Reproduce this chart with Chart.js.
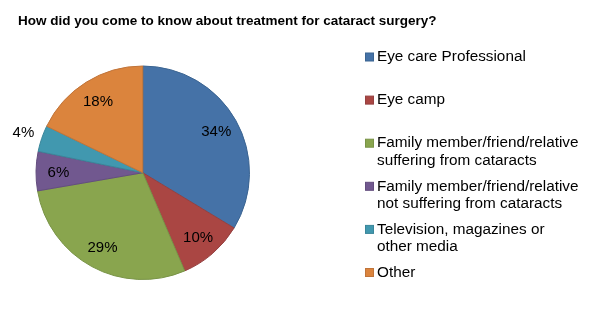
<!DOCTYPE html>
<html>
<head>
<meta charset="utf-8">
<script src="https://cdn.jsdelivr.net/npm/chart.js@4"></script>
<style>
  body { margin: 0; background: #fff; }
  canvas { display: block; }
</style>
</head>
<body>
<canvas id="chart" width="600" height="314"></canvas>
<script>
const title = "How did you come to know about treatment for cataract surgery?";

// legend text, split in lines like the original
const categories = [
  ["Eye care Professional"],
  ["Eye camp"],
  ["Family member/friend/relative", "suffering from cataracts"],
  ["Family member/friend/relative", "not suffering from cataracts"],
  ["Television, magazines or", "other media"],
  ["Other"]
];
const shares = [34, 10, 29, 6, 4, 18];

const colors = ["#4572A7", "#AA4643", "#89A54E", "#71588F", "#4198AF", "#DB843D"];
const borders = ["#3B6491", "#954040", "#789346", "#634D7E", "#3A869A", "#C0743A"];

const FONT = '"Liberation Sans", Arial, sans-serif';

// percent labels on the slices
const pieLabels = {
  id: "pieLabels",
  afterDatasetsDraw(chart) {
    const ctx = chart.ctx;
    const meta = chart.getDatasetMeta(0);
    ctx.save();
    ctx.font = "15px " + FONT;
    ctx.fillStyle = "#000";
    ctx.textAlign = "center";
    ctx.textBaseline = "middle";
    meta.data.forEach((arc, i) => {
      const p = arc.getProps(["x", "y", "startAngle", "endAngle", "outerRadius"], true);
      const mid = (p.startAngle + p.endAngle) / 2;
      const r = shares[i] < 5 ? p.outerRadius * 1.18 : p.outerRadius * 0.79;
      ctx.fillText(shares[i] + "%", p.x + Math.cos(mid) * r, p.y + Math.sin(mid) * r + 1);
    });
    ctx.restore();
  }
};

// title + legend on the right
const sideLegend = {
  id: "sideLegend",
  afterDraw(chart) {
    const ctx = chart.ctx;
    ctx.save();
    ctx.fillStyle = "#000";
    ctx.textBaseline = "middle";
    ctx.font = "bold 13.5px " + FONT;
    ctx.fillText(title, 18, 21.5);

    ctx.font = "15.3px " + FONT;
    categories.forEach((lines, i) => {
      const y = 57 + i * 43.1;
      ctx.fillStyle = colors[i];
      ctx.fillRect(365.5, y - 4, 8, 8);
      ctx.strokeStyle = borders[i];
      ctx.lineWidth = 1;
      ctx.strokeRect(365.5, y - 4, 8, 8);
      ctx.fillStyle = "#000";
      lines.forEach((t, j) => ctx.fillText(t, 377, y + j * 17.7));
    });
    ctx.restore();
  }
};

new Chart(document.getElementById("chart"), {
  type: "pie",
  data: {
    labels: categories,
    datasets: [{
      data: shares,
      backgroundColor: colors,
      borderColor: borders,
      borderWidth: 1
    }]
  },
  options: {
    responsive: false,
    animation: false,
    layout: { padding: { left: 35, right: 349.5, top: 65.5, bottom: 34 } },
    plugins: {
      legend: { display: false },
      title: { display: false },
      tooltip: { enabled: false }
    }
  },
  plugins: [pieLabels, sideLegend]
});
</script>
</body>
</html>
